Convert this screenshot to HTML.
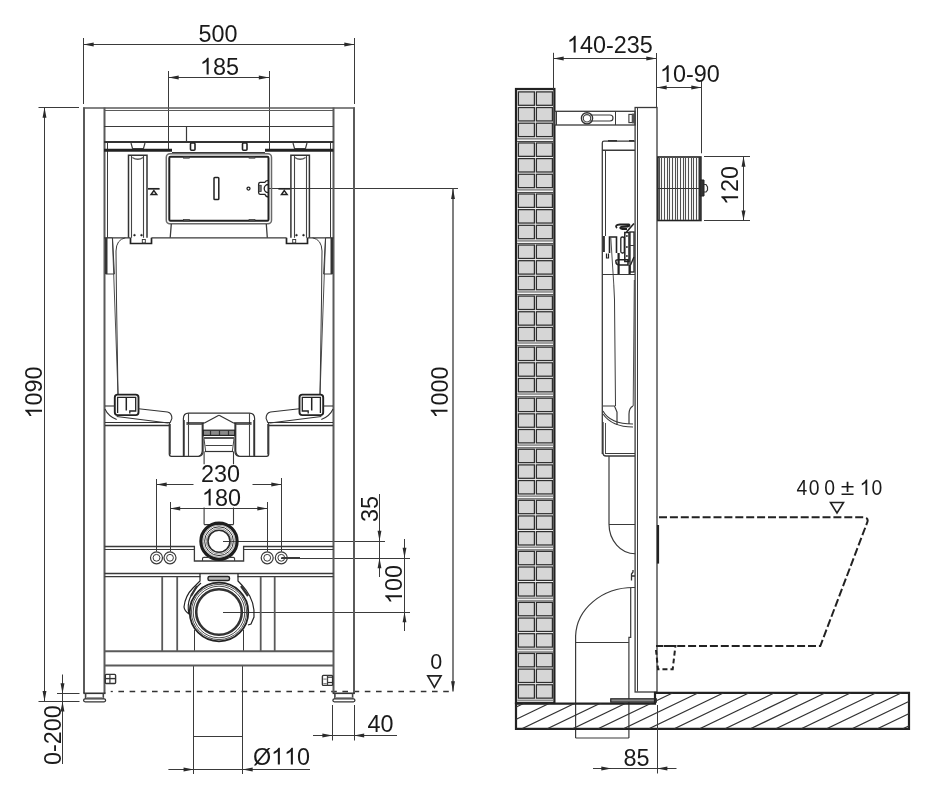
<!DOCTYPE html>
<html><head><meta charset="utf-8"><style>
html,body{margin:0;padding:0;background:#fff;}
body{width:935px;height:800px;overflow:hidden;position:relative;}
svg{position:absolute;left:0;top:0;will-change:transform;}
</style></head><body>
<svg width="935" height="800" viewBox="0 0 935 800">
<line x1="83.5" y1="38" x2="83.5" y2="104" stroke="#3a3a3a" stroke-width="1" />
<line x1="354.5" y1="38" x2="354.5" y2="104" stroke="#3a3a3a" stroke-width="1" />
<line x1="83.5" y1="44.5" x2="354.5" y2="44.5" stroke="#3a3a3a" stroke-width="1" />
<path d="M83.50,44.50 L93.70,42.55 L93.70,46.45 Z" fill="#2a2a2a"/>
<path d="M354.50,44.50 L344.30,46.45 L344.30,42.55 Z" fill="#2a2a2a"/>
<g transform="translate(198.4,41.5)"><text x="0" y="0" font-family="Liberation Sans" font-size="23.4" fill="#1a1a1a">500</text></g>
<line x1="168.5" y1="71" x2="168.5" y2="150" stroke="#3a3a3a" stroke-width="1" />
<line x1="269.5" y1="71" x2="269.5" y2="150" stroke="#3a3a3a" stroke-width="1" />
<line x1="168.5" y1="77.5" x2="269" y2="77.5" stroke="#3a3a3a" stroke-width="1" />
<path d="M168.50,77.50 L178.70,75.55 L178.70,79.45 Z" fill="#2a2a2a"/>
<path d="M269.00,77.50 L258.80,79.45 L258.80,75.55 Z" fill="#2a2a2a"/>
<g transform="translate(199.9,74.5)"><text x="0" y="0" font-family="Liberation Sans" font-size="23.4" fill="#1a1a1a"> 85</text><path d="M8.77,0.00 L6.72,0.00 L6.72,-13.10 Q4.91,-11.47 2.53,-10.41 L2.53,-12.40 Q6.08,-14.04 7.44,-16.75 L8.77,-16.75 Z" fill="#1a1a1a"/></g>
<line x1="38.5" y1="107.5" x2="79" y2="107.5" stroke="#3a3a3a" stroke-width="1" />
<line x1="38.5" y1="701.5" x2="79.5" y2="701.5" stroke="#3a3a3a" stroke-width="1.2" />
<line x1="44.5" y1="107.5" x2="44.5" y2="701.3" stroke="#3a3a3a" stroke-width="1" />
<path d="M44.50,107.50 L46.45,117.70 L42.55,117.70 Z" fill="#2a2a2a"/>
<path d="M44.50,701.30 L42.55,691.10 L46.45,691.10 Z" fill="#2a2a2a"/>
<g transform="translate(42,418.5) rotate(-90)"><text x="0" y="0" font-family="Liberation Sans" font-size="23.4" fill="#1a1a1a"> 090</text><path d="M8.77,0.00 L6.72,0.00 L6.72,-13.10 Q4.91,-11.47 2.53,-10.41 L2.53,-12.40 Q6.08,-14.04 7.44,-16.75 L8.77,-16.75 Z" fill="#1a1a1a"/></g>
<line x1="57" y1="693.5" x2="79.5" y2="693.5" stroke="#3a3a3a" stroke-width="1" />
<line x1="62.5" y1="674.5" x2="62.5" y2="764" stroke="#3a3a3a" stroke-width="1" />
<path d="M62.50,693.50 L60.55,683.30 L64.45,683.30 Z" fill="#2a2a2a"/>
<path d="M62.50,701.30 L64.45,711.50 L60.55,711.50 Z" fill="#2a2a2a"/>
<g transform="translate(61,765) rotate(-90)"><text x="0" y="0" font-family="Liberation Sans" font-size="23.4" fill="#1a1a1a">0-200</text></g>
<line x1="268.9" y1="188.5" x2="458" y2="188.5" stroke="#3a3a3a" stroke-width="1" />
<line x1="453" y1="188.7" x2="453" y2="691.5" stroke="#555" stroke-width="1.5" />
<path d="M453.00,188.70 L454.95,198.90 L451.05,198.90 Z" fill="#2a2a2a"/>
<path d="M453.00,691.50 L451.05,681.30 L454.95,681.30 Z" fill="#2a2a2a"/>
<g transform="translate(447.5,418.5) rotate(-90)"><text x="0" y="0" font-family="Liberation Sans" font-size="23.4" fill="#1a1a1a"> 000</text><path d="M8.77,0.00 L6.72,0.00 L6.72,-13.10 Q4.91,-11.47 2.53,-10.41 L2.53,-12.40 Q6.08,-14.04 7.44,-16.75 L8.77,-16.75 Z" fill="#1a1a1a"/></g>
<g transform="translate(430.2,668.6)"><text x="0" y="0" font-family="Liberation Sans" font-size="21.5" fill="#1a1a1a">0</text></g>
<path d="M427.8,675.8 L441,675.8 L434.4,687.3 Z" stroke="#222" stroke-width="1.7" fill="none" />
<line x1="118.4" y1="691.5" x2="453" y2="691.5" stroke="#333" stroke-width="1.3" stroke-dasharray="5.6 5.6"/>
<line x1="110.7" y1="691.5" x2="112.8" y2="691.5" stroke="#333" stroke-width="1.3" />
<line x1="223" y1="541.5" x2="385" y2="541.5" stroke="#3a3a3a" stroke-width="1" />
<line x1="281" y1="558.5" x2="410" y2="558.5" stroke="#3a3a3a" stroke-width="1" />
<line x1="379.5" y1="494" x2="379.5" y2="577" stroke="#3a3a3a" stroke-width="1" />
<path d="M379.50,541.00 L377.55,530.80 L381.45,530.80 Z" fill="#2a2a2a"/>
<path d="M379.50,558.00 L381.45,568.20 L377.55,568.20 Z" fill="#2a2a2a"/>
<g transform="translate(378,522) rotate(-90)"><text x="0" y="0" font-family="Liberation Sans" font-size="23.4" fill="#1a1a1a">35</text></g>
<line x1="223" y1="612.5" x2="410" y2="612.5" stroke="#3a3a3a" stroke-width="1" />
<line x1="404.5" y1="539" x2="404.5" y2="631" stroke="#3a3a3a" stroke-width="1" />
<path d="M404.50,558.00 L402.55,547.80 L406.45,547.80 Z" fill="#2a2a2a"/>
<path d="M404.50,612.00 L406.45,622.20 L402.55,622.20 Z" fill="#2a2a2a"/>
<g transform="translate(402,604) rotate(-90)"><text x="0" y="0" font-family="Liberation Sans" font-size="23.4" fill="#1a1a1a"> 00</text><path d="M8.77,0.00 L6.72,0.00 L6.72,-13.10 Q4.91,-11.47 2.53,-10.41 L2.53,-12.40 Q6.08,-14.04 7.44,-16.75 L8.77,-16.75 Z" fill="#1a1a1a"/></g>
<line x1="156.5" y1="479" x2="156.5" y2="551.5" stroke="#3a3a3a" stroke-width="1" />
<line x1="281.5" y1="478" x2="281.5" y2="551.5" stroke="#3a3a3a" stroke-width="1" />
<line x1="156.5" y1="484.5" x2="193.5" y2="484.5" stroke="#3a3a3a" stroke-width="1" />
<line x1="252.5" y1="484.5" x2="281.5" y2="484.5" stroke="#3a3a3a" stroke-width="1" />
<path d="M156.50,484.50 L166.70,482.55 L166.70,486.45 Z" fill="#2a2a2a"/>
<path d="M281.50,484.50 L271.30,486.45 L271.30,482.55 Z" fill="#2a2a2a"/>
<g transform="translate(200.9,481.5)"><text x="0" y="0" font-family="Liberation Sans" font-size="23.4" fill="#1a1a1a">230</text></g>
<line x1="170.5" y1="502" x2="170.5" y2="551.5" stroke="#3a3a3a" stroke-width="1" />
<line x1="267.5" y1="502" x2="267.5" y2="551.5" stroke="#3a3a3a" stroke-width="1" />
<line x1="170" y1="508.5" x2="267.5" y2="508.5" stroke="#3a3a3a" stroke-width="1" />
<path d="M170.00,508.50 L180.20,506.55 L180.20,510.45 Z" fill="#2a2a2a"/>
<path d="M267.50,508.50 L257.30,510.45 L257.30,506.55 Z" fill="#2a2a2a"/>
<g transform="translate(201.9,505.5)"><text x="0" y="0" font-family="Liberation Sans" font-size="23.4" fill="#1a1a1a"> 80</text><path d="M8.77,0.00 L6.72,0.00 L6.72,-13.10 Q4.91,-11.47 2.53,-10.41 L2.53,-12.40 Q6.08,-14.04 7.44,-16.75 L8.77,-16.75 Z" fill="#1a1a1a"/></g>
<line x1="332.5" y1="705" x2="332.5" y2="740.5" stroke="#3a3a3a" stroke-width="1" />
<line x1="354.5" y1="705" x2="354.5" y2="740.5" stroke="#3a3a3a" stroke-width="1" />
<line x1="313" y1="735.5" x2="397" y2="735.5" stroke="#3a3a3a" stroke-width="1" />
<path d="M332.60,735.50 L322.40,737.45 L322.40,733.55 Z" fill="#2a2a2a"/>
<path d="M354.00,735.50 L364.20,733.55 L364.20,737.45 Z" fill="#2a2a2a"/>
<g transform="translate(367.4,731.5)"><text x="0" y="0" font-family="Liberation Sans" font-size="23.4" fill="#1a1a1a">40</text></g>
<line x1="193.5" y1="666" x2="193.5" y2="774" stroke="#3a3a3a" stroke-width="1" />
<line x1="242.5" y1="666" x2="242.5" y2="774" stroke="#3a3a3a" stroke-width="1" />
<line x1="193.75" y1="736.5" x2="242.5" y2="736.5" stroke="#3a3a3a" stroke-width="1" />
<line x1="168.4" y1="769.5" x2="310" y2="769.5" stroke="#3a3a3a" stroke-width="1" />
<path d="M193.75,769.50 L183.55,771.45 L183.55,767.55 Z" fill="#2a2a2a"/>
<path d="M242.50,769.50 L252.70,767.55 L252.70,771.45 Z" fill="#2a2a2a"/>
<g transform="translate(252.9,764.5)"><text x="0" y="0" font-family="Liberation Sans" font-size="23.4" fill="#1a1a1a">Ø  0</text><path d="M26.98,0.00 L24.92,0.00 L24.92,-13.10 Q23.12,-11.47 20.73,-10.41 L20.73,-12.40 Q24.29,-14.04 25.65,-16.75 L26.98,-16.75 Z" fill="#1a1a1a"/><path d="M39.99,0.00 L37.93,0.00 L37.93,-13.10 Q36.13,-11.47 33.74,-10.41 L33.74,-12.40 Q37.30,-14.04 38.66,-16.75 L39.99,-16.75 Z" fill="#1a1a1a"/></g>
<line x1="84" y1="107.5" x2="84" y2="693" stroke="#5a5a5a" stroke-width="2" />
<line x1="104.5" y1="107.5" x2="104.5" y2="693" stroke="#5a5a5a" stroke-width="2" />
<line x1="354" y1="107.5" x2="354" y2="693" stroke="#5a5a5a" stroke-width="2" />
<line x1="333.5" y1="107.5" x2="333.5" y2="693" stroke="#5a5a5a" stroke-width="2" />
<line x1="83" y1="108" x2="355" y2="108" stroke="#5a5a5a" stroke-width="1.5" />
<line x1="104" y1="110.5" x2="333.5" y2="110.5" stroke="#5a5a5a" stroke-width="1.2" />
<line x1="104" y1="126.5" x2="333.5" y2="126.5" stroke="#3a3a3a" stroke-width="1.2" />
<line x1="186.5" y1="126.6" x2="186.5" y2="141.3" stroke="#3a3a3a" stroke-width="1.2" />
<line x1="83.3" y1="693.3" x2="105.6" y2="693.3" stroke="#333" stroke-width="1.6" />
<line x1="85.6" y1="693.3" x2="85.6" y2="699" stroke="#444" stroke-width="1.6" />
<line x1="103.3" y1="693.3" x2="103.3" y2="699" stroke="#444" stroke-width="1.6" />
<rect x="86.3" y="697" width="17" height="1.6" rx="0" stroke="none" stroke-width="0" fill="#999" />
<rect x="83.6" y="698.8" width="22" height="3" rx="1.5" stroke="#333" stroke-width="1.3" fill="#fff" />
<line x1="332.6" y1="693.3" x2="354.90000000000003" y2="693.3" stroke="#333" stroke-width="1.6" />
<line x1="334.90000000000003" y1="693.3" x2="334.90000000000003" y2="699" stroke="#444" stroke-width="1.6" />
<line x1="352.6" y1="693.3" x2="352.6" y2="699" stroke="#444" stroke-width="1.6" />
<rect x="335.6" y="697" width="17" height="1.6" rx="0" stroke="none" stroke-width="0" fill="#999" />
<rect x="332.90000000000003" y="698.8" width="22" height="3" rx="1.5" stroke="#333" stroke-width="1.3" fill="#fff" />
<line x1="107.5" y1="142" x2="107.5" y2="237.8" stroke="#3a3a3a" stroke-width="1" />
<line x1="330.5" y1="142" x2="330.5" y2="237.8" stroke="#3a3a3a" stroke-width="1" />
<line x1="104" y1="142" x2="333.5" y2="142" stroke="#333" stroke-width="1.8" />
<line x1="104" y1="150.3" x2="172" y2="150.3" stroke="#222" stroke-width="3" />
<line x1="265" y1="150.3" x2="333.5" y2="150.3" stroke="#222" stroke-width="3" />
<line x1="172" y1="152.5" x2="265" y2="152.5" stroke="#3a3a3a" stroke-width="1.2" />
<path d="M131,143 L132.5,148.5 L143.5,148.5 L145,143" stroke="#3a3a3a" stroke-width="1.2" fill="none" />
<path d="M293,143 L294.5,148.5 L305.5,148.5 L307,143" stroke="#3a3a3a" stroke-width="1.2" fill="none" />
<rect x="190.5" y="143" width="4.5" height="7.3" rx="1" stroke="#222" stroke-width="1.6" fill="none" />
<rect x="242.5" y="143" width="4.5" height="7.3" rx="1" stroke="#222" stroke-width="1.6" fill="none" />
<path d="M128.5,237.8 L128.5,155.2 L147.0,155.2 L147.0,237.8" stroke="#333" stroke-width="1.5" fill="none" />
<line x1="131.5" y1="156" x2="131.5" y2="237.8" stroke="#444" stroke-width="1.1" />
<line x1="143.5" y1="156" x2="143.5" y2="237.8" stroke="#444" stroke-width="1.1" />
<path d="M132.3,157.5 Q137.75,161 143.2,157.5" stroke="#555" stroke-width="1.3" fill="none" />
<path d="M290.9,237.8 L290.9,155.2 L309.4,155.2 L309.4,237.8" stroke="#333" stroke-width="1.5" fill="none" />
<line x1="294.5" y1="156" x2="294.5" y2="237.8" stroke="#444" stroke-width="1.1" />
<line x1="306.5" y1="156" x2="306.5" y2="237.8" stroke="#444" stroke-width="1.1" />
<path d="M294.7,157.5 Q300.15,161 305.59999999999997,157.5" stroke="#555" stroke-width="1.3" fill="none" />
<path d="M130.5,237.8 L130.5,243.5 L151.5,243.5 L151.5,237.8" stroke="#222" stroke-width="1.7" fill="none" />
<path d="M286.5,237.8 L286.5,243.5 L307.5,243.5 L307.5,237.8" stroke="#222" stroke-width="1.7" fill="none" />
<circle cx="134.5" cy="235.2" r="0.9" stroke="#222" stroke-width="0.5" fill="#222"/>
<circle cx="141.5" cy="235.2" r="0.9" stroke="#222" stroke-width="0.5" fill="#222"/>
<circle cx="296.5" cy="235.2" r="0.9" stroke="#222" stroke-width="0.5" fill="#222"/>
<circle cx="303.5" cy="235.2" r="0.9" stroke="#222" stroke-width="0.5" fill="#222"/>
<rect x="142.3" y="239.5" width="3" height="3.5" rx="0" stroke="#333" stroke-width="0.9" fill="none" />
<rect x="292.7" y="239.5" width="3" height="3.5" rx="0" stroke="#333" stroke-width="0.9" fill="none" />
<line x1="148" y1="188.8" x2="159.6" y2="188.8" stroke="#222" stroke-width="1.7" />
<path d="M153.9,190.6 L156.7,194.4 L151.1,194.4 Z" stroke="#222" stroke-width="1.5" fill="none" />
<line x1="278.4" y1="188.8" x2="290.0" y2="188.8" stroke="#222" stroke-width="1.7" />
<path d="M284.29999999999995,190.6 L287.09999999999997,194.4 L281.5,194.4 Z" stroke="#222" stroke-width="1.5" fill="none" />
<rect x="166.3" y="153.8" width="105.2" height="70" rx="3.5" stroke="#6a6a6a" stroke-width="1.5" fill="none" />
<rect x="169.3" y="156.8" width="99.2" height="64" rx="1.2" stroke="#222" stroke-width="2" fill="none" />
<rect x="214" y="177.5" width="4.8" height="22" rx="0.8" stroke="#222" stroke-width="1.5" fill="none" />
<circle cx="248.5" cy="188.6" r="1.5" stroke="#222" stroke-width="1.3" fill="#fff"/>
<path d="M268.3,180.3 Q265.5,180.5 264.8,182.4 L260,182.4 Q258.6,182.6 258.6,184.5 L258.6,192.3 Q258.6,194.3 260,194.3 L264.8,194.3 Q265.5,196.6 268.3,197" stroke="#222" stroke-width="1.3" fill="none" />
<path d="M268.3,184.5 A4.1,4.1 0 0 0 268.3,192.7" stroke="#222" stroke-width="1.3" fill="none" />
<rect x="258.8" y="185.3" width="2.4" height="6.2" rx="0" stroke="#333" stroke-width="0.8" fill="#777" />
<rect x="183.5" y="156.6" width="6" height="1.6" rx="0" stroke="#333" stroke-width="0.6" fill="#555" />
<rect x="183.5" y="219.4" width="6" height="1.6" rx="0" stroke="#333" stroke-width="0.6" fill="#555" />
<rect x="249" y="156.6" width="6" height="1.6" rx="0" stroke="#333" stroke-width="0.6" fill="#555" />
<rect x="249" y="219.4" width="6" height="1.6" rx="0" stroke="#333" stroke-width="0.6" fill="#555" />
<path d="M171.3,224 L170.2,237.8 M266.3,224 L267.3,237.8" stroke="#3a3a3a" stroke-width="1.3" fill="none" />
<path d="M104,237.8 L130.5,237.8 M151.5,237.8 L286.5,237.8 M307.5,237.8 L333.5,237.8" stroke="#3a3a3a" stroke-width="1.3" fill="none" />
<path d="M125.4,237.8 Q116.3,239.5 116,251 L116.5,300 L118,394" stroke="#3a3a3a" stroke-width="1" fill="none" />
<path d="M312.6,237.8 Q321.7,239.5 322,251 L321.5,300 L320,394.5" stroke="#3a3a3a" stroke-width="1" fill="none" />
<path d="M105.5,238 L112.5,238 L114.4,274 L105.5,274 Z" stroke="#3a3a3a" stroke-width="1" fill="#fff" />
<line x1="106.5" y1="238" x2="106.5" y2="274" stroke="#333" stroke-width="2" />
<line x1="112.4" y1="238" x2="118" y2="394" stroke="#3a3a3a" stroke-width="0.9" />
<path d="M332.5,238 L325.5,238 L323.6,274 L332.5,274 Z" stroke="#3a3a3a" stroke-width="1" fill="#fff" />
<line x1="331.5" y1="238" x2="331.5" y2="274" stroke="#333" stroke-width="2" />
<line x1="325.6" y1="238" x2="320" y2="394" stroke="#3a3a3a" stroke-width="0.9" />
<rect x="114.8" y="394.6" width="23.7" height="20.5" rx="2.8" stroke="#222" stroke-width="1.9" fill="none" />
<path d="M117.6,413 L117.6,397.3 L135.7,397.3 L135.7,411 L129.8,411 L129.8,413.5" stroke="#222" stroke-width="1.3" fill="none" />
<line x1="126.3" y1="397" x2="126.3" y2="410.5" stroke="#222" stroke-width="1.5" />
<line x1="105" y1="406" x2="114.8" y2="406" stroke="#333" stroke-width="1.1" />
<path d="M138.5,408.7 L167.5,412 Q171.9,413 171.9,418.4 L170,423" stroke="#333" stroke-width="1.1" fill="none" />
<path d="M116.7,416.5 L168,423" stroke="#333" stroke-width="1.1" fill="none" />
<path d="M105,409 Q108,416 116.7,419.6" stroke="#333" stroke-width="1.1" fill="none" />
<line x1="105" y1="422.5" x2="170" y2="422.5" stroke="#333" stroke-width="1.1" />
<line x1="105" y1="425.5" x2="169.3" y2="425.5" stroke="#333" stroke-width="1.3" />
<path d="M169.3,423 L169.3,454 Q169.3,456.3 171.5,456.3 L198.4,456.3 Q201.8,455.5 202.3,451 L202.3,423" stroke="#333" stroke-width="1.3" fill="none" />
<line x1="170.5" y1="424" x2="170.5" y2="454.5" stroke="#555" stroke-width="0.9" />
<path d="M183.4,456.3 L183.4,418.5 Q183.4,413.1 188.6,413.1 L219,413.1" stroke="#333" stroke-width="1.2" fill="none" />
<line x1="184.5" y1="420" x2="184.5" y2="456" stroke="#555" stroke-width="0.9" />
<line x1="188.5" y1="413.1" x2="188.5" y2="456.3" stroke="#444" stroke-width="1.1" />
<line x1="186.4" y1="423" x2="204.4" y2="423" stroke="#222" stroke-width="1.5" />
<line x1="186.4" y1="424.5" x2="202.3" y2="424.5" stroke="#555" stroke-width="0.9" />
<path d="M204.4,423 L218.9,415.3" stroke="#333" stroke-width="1.2" fill="none" />
<path d="M203.1,423 L203.1,451 Q203.3,455.5 199,456.3" stroke="#333" stroke-width="1.1" fill="none" />
<line x1="204" y1="437.5" x2="219" y2="437.5" stroke="#444" stroke-width="0.9" />
<line x1="204" y1="438.5" x2="219" y2="438.5" stroke="#444" stroke-width="0.9" />
<path d="M204,438.8 L205.7,451.6" stroke="#444" stroke-width="1" fill="none" />
<line x1="205.5" y1="445.5" x2="219" y2="445.5" stroke="#444" stroke-width="1" />
<line x1="204.8" y1="451.5" x2="219" y2="451.5" stroke="#333" stroke-width="1.2" />
<g transform="translate(438,0) scale(-1,1)">
<rect x="114.8" y="394.6" width="23.7" height="20.5" rx="2.8" stroke="#222" stroke-width="1.9" fill="none" />
<path d="M117.6,413 L117.6,397.3 L135.7,397.3 L135.7,411 L129.8,411 L129.8,413.5" stroke="#222" stroke-width="1.3" fill="none" />
<line x1="126.3" y1="397" x2="126.3" y2="410.5" stroke="#222" stroke-width="1.5" />
<line x1="105" y1="406" x2="114.8" y2="406" stroke="#333" stroke-width="1.1" />
<path d="M138.5,408.7 L167.5,412 Q171.9,413 171.9,418.4 L170,423" stroke="#333" stroke-width="1.1" fill="none" />
<path d="M116.7,416.5 L168,423" stroke="#333" stroke-width="1.1" fill="none" />
<path d="M105,409 Q108,416 116.7,419.6" stroke="#333" stroke-width="1.1" fill="none" />
<line x1="105" y1="422.5" x2="170" y2="422.5" stroke="#333" stroke-width="1.1" />
<line x1="105" y1="425.5" x2="169.3" y2="425.5" stroke="#333" stroke-width="1.3" />
<path d="M169.3,423 L169.3,454 Q169.3,456.3 171.5,456.3 L198.4,456.3 Q201.8,455.5 202.3,451 L202.3,423" stroke="#333" stroke-width="1.3" fill="none" />
<line x1="170.5" y1="424" x2="170.5" y2="454.5" stroke="#555" stroke-width="0.9" />
<path d="M183.4,456.3 L183.4,418.5 Q183.4,413.1 188.6,413.1 L219,413.1" stroke="#333" stroke-width="1.2" fill="none" />
<line x1="184.5" y1="420" x2="184.5" y2="456" stroke="#555" stroke-width="0.9" />
<line x1="188.5" y1="413.1" x2="188.5" y2="456.3" stroke="#444" stroke-width="1.1" />
<line x1="186.4" y1="423" x2="204.4" y2="423" stroke="#222" stroke-width="1.5" />
<line x1="186.4" y1="424.5" x2="202.3" y2="424.5" stroke="#555" stroke-width="0.9" />
<path d="M204.4,423 L218.9,415.3" stroke="#333" stroke-width="1.2" fill="none" />
<path d="M203.1,423 L203.1,451 Q203.3,455.5 199,456.3" stroke="#333" stroke-width="1.1" fill="none" />
<line x1="204" y1="437.5" x2="219" y2="437.5" stroke="#444" stroke-width="0.9" />
<line x1="204" y1="438.5" x2="219" y2="438.5" stroke="#444" stroke-width="0.9" />
<path d="M204,438.8 L205.7,451.6" stroke="#444" stroke-width="1" fill="none" />
<line x1="205.5" y1="445.5" x2="219" y2="445.5" stroke="#444" stroke-width="1" />
<line x1="204.8" y1="451.5" x2="219" y2="451.5" stroke="#333" stroke-width="1.2" />
</g>
<rect x="203.3" y="430.2" width="31.4" height="5.2" rx="0" stroke="#222" stroke-width="1.2" fill="#8a8a8a" />
<line x1="210.5" y1="430.5" x2="210.5" y2="435" stroke="#333" stroke-width="1.2" />
<line x1="219.5" y1="430.5" x2="219.5" y2="435" stroke="#333" stroke-width="1.2" />
<line x1="228.5" y1="430.5" x2="228.5" y2="435" stroke="#333" stroke-width="1.2" />
<path d="M204.1,451.6 L204.1,464.2 M233.5,451.6 L233.5,464.2 M204.1,507.5 L204.1,524.6 M233.5,507.5 L233.5,524.6 M204.1,524.6 L233.5,524.6" stroke="#3a3a3a" stroke-width="1.1" fill="none" />
<path d="M104.5,546.5 L194.4,546.5 L194.4,561 L243.6,561 L243.6,546.5 L333.5,546.5" stroke="#3a3a3a" stroke-width="1.3" fill="none" />
<line x1="104.5" y1="573.5" x2="333.5" y2="573.5" stroke="#3a3a3a" stroke-width="1.3" />
<path d="M104.5,576.7 L200.4,576.7 M237.6,576.7 L333.5,576.7" stroke="#3a3a3a" stroke-width="1.3" fill="none" />
<line x1="104.5" y1="549.5" x2="194.4" y2="549.5" stroke="#3a3a3a" stroke-width="1.1" />
<line x1="243.6" y1="549.5" x2="333.5" y2="549.5" stroke="#3a3a3a" stroke-width="1.1" />
<circle cx="156.5" cy="557.8" r="6" stroke="#3a3a3a" stroke-width="1.2" fill="none"/>
<circle cx="156.5" cy="557.8" r="3.4" stroke="#3a3a3a" stroke-width="1" fill="none"/>
<circle cx="170" cy="557.8" r="6" stroke="#3a3a3a" stroke-width="1.2" fill="none"/>
<circle cx="170" cy="557.8" r="3.4" stroke="#3a3a3a" stroke-width="1" fill="none"/>
<circle cx="267.2" cy="557.8" r="6" stroke="#3a3a3a" stroke-width="1.2" fill="none"/>
<circle cx="267.2" cy="557.8" r="3.4" stroke="#3a3a3a" stroke-width="1" fill="none"/>
<circle cx="281.3" cy="557.8" r="6" stroke="#3a3a3a" stroke-width="1.2" fill="none"/>
<circle cx="281.3" cy="557.8" r="3.4" stroke="#3a3a3a" stroke-width="1" fill="none"/>
<line x1="281.3" y1="557.5" x2="300" y2="557.5" stroke="#3a3a3a" stroke-width="1" />
<circle cx="219" cy="541.2" r="18.1" stroke="#1e1e1e" stroke-width="3.2" fill="none"/>
<circle cx="219" cy="541.2" r="15.9" stroke="#888" stroke-width="0.7" fill="none"/>
<circle cx="219" cy="541.2" r="14.4" stroke="#333" stroke-width="1" fill="none"/>
<circle cx="219" cy="541.2" r="12.8" stroke="#777" stroke-width="0.8" fill="none"/>
<circle cx="219" cy="541.2" r="11" stroke="#2a2a2a" stroke-width="1.6" fill="none"/>
<path d="M202.5,561 L202.5,558.5 Q202.5,557.4 204,557.4 L210,557.4 M228,557.4 L233.2,557.4 Q234.6,557.4 234.6,558.5 L234.6,561" stroke="#3a3a3a" stroke-width="1.1" fill="none" />
<circle cx="219" cy="612" r="29.3" stroke="#222" stroke-width="1.8" fill="none"/>
<circle cx="219" cy="612" r="27.6" stroke="#3a3a3a" stroke-width="0.9" fill="none"/>
<circle cx="219" cy="612" r="25.8" stroke="#3a3a3a" stroke-width="0.9" fill="none"/>
<circle cx="219" cy="612" r="22.8" stroke="#333" stroke-width="2.6" fill="none"/>
<path d="M200,573.5 L200,581 Q196,585 193,588 Q185,596 184,607 Q184.5,611 189,614 Q187,605 190,598 Q194,589 201,583" stroke="#222" stroke-width="1.2" fill="none" />
<path d="M238,573.5 L238,581 Q242,585 246,590 Q255,602 254,617 L251,624 L248,625" stroke="#222" stroke-width="1.2" fill="none" />
<path d="M197,586 L191,596 M241,586 L248,596" stroke="#333" stroke-width="2.2" fill="none" />
<rect x="208" y="576.5" width="21.5" height="4" rx="1.5" stroke="#222" stroke-width="1.4" fill="#bbb" />
<line x1="162.2" y1="577" x2="162.2" y2="651" stroke="#5a5a5a" stroke-width="1.8" />
<line x1="177.2" y1="577" x2="177.2" y2="651" stroke="#5a5a5a" stroke-width="1.8" />
<line x1="260.7" y1="577" x2="260.7" y2="651" stroke="#5a5a5a" stroke-width="1.8" />
<line x1="274.7" y1="577" x2="274.7" y2="651" stroke="#5a5a5a" stroke-width="1.8" />
<line x1="194.5" y1="630" x2="194.5" y2="651" stroke="#3a3a3a" stroke-width="1" />
<line x1="243.5" y1="630" x2="243.5" y2="651" stroke="#3a3a3a" stroke-width="1" />
<line x1="104.5" y1="651.3" x2="333.5" y2="651.3" stroke="#5a5a5a" stroke-width="2" />
<line x1="104.5" y1="665.5" x2="333.5" y2="665.5" stroke="#5a5a5a" stroke-width="2" />
<rect x="105.3" y="674.4" width="10.3" height="9.1" rx="1" stroke="#333" stroke-width="1.4" fill="none" />
<line x1="109.9" y1="674.4" x2="109.9" y2="683.5" stroke="#444" stroke-width="1.3" />
<line x1="105.3" y1="678.6" x2="115.6" y2="678.6" stroke="#333" stroke-width="1.4" />
<rect x="322.4" y="675.4" width="10.2" height="10" rx="1" stroke="#333" stroke-width="1.4" fill="none" />
<line x1="327.5" y1="675.4" x2="327.5" y2="685.4" stroke="#444" stroke-width="1.3" />
<line x1="327.5" y1="677.2" x2="332.6" y2="677.2" stroke="#333" stroke-width="1.2" />
<line x1="327.5" y1="682.5" x2="332.6" y2="682.5" stroke="#333" stroke-width="1.2" />
<rect x="323.3" y="678.5" width="3.5" height="1.2" rx="0" stroke="none" stroke-width="0" fill="#888" />
<rect x="323.3" y="683" width="3.5" height="1.2" rx="0" stroke="none" stroke-width="0" fill="#888" />
<rect x="516" y="89" width="38.4" height="614" rx="0" stroke="#222" stroke-width="2.2" fill="#f2f2f2" />
<rect x="518.4" y="91.9" width="16" height="13.4" rx="0" stroke="#2e2e2e" stroke-width="1.25" fill="#d6d6d6" />
<rect x="536.4" y="91.9" width="16" height="13.4" rx="0" stroke="#2e2e2e" stroke-width="1.25" fill="#d6d6d6" />
<rect x="518.4" y="107.55000000000001" width="16" height="13.4" rx="0" stroke="#2e2e2e" stroke-width="1.25" fill="#d6d6d6" />
<rect x="536.4" y="107.55000000000001" width="16" height="13.4" rx="0" stroke="#2e2e2e" stroke-width="1.25" fill="#d6d6d6" />
<rect x="518.4" y="123.2" width="16" height="13.4" rx="0" stroke="#2e2e2e" stroke-width="1.25" fill="#d6d6d6" />
<rect x="536.4" y="123.2" width="16" height="13.4" rx="0" stroke="#2e2e2e" stroke-width="1.25" fill="#d6d6d6" />
<rect x="517.2" y="138.0" width="36" height="1.6" rx="0" stroke="none" stroke-width="0" fill="#8c8c8c" />
<line x1="517.2" y1="141.5" x2="553.3" y2="141.5" stroke="#444" stroke-width="1" />
<rect x="518.4" y="142.95" width="16" height="13.4" rx="0" stroke="#2e2e2e" stroke-width="1.25" fill="#d6d6d6" />
<rect x="536.4" y="142.95" width="16" height="13.4" rx="0" stroke="#2e2e2e" stroke-width="1.25" fill="#d6d6d6" />
<rect x="518.4" y="158.6" width="16" height="13.4" rx="0" stroke="#2e2e2e" stroke-width="1.25" fill="#d6d6d6" />
<rect x="536.4" y="158.6" width="16" height="13.4" rx="0" stroke="#2e2e2e" stroke-width="1.25" fill="#d6d6d6" />
<rect x="518.4" y="174.25" width="16" height="13.4" rx="0" stroke="#2e2e2e" stroke-width="1.25" fill="#d6d6d6" />
<rect x="536.4" y="174.25" width="16" height="13.4" rx="0" stroke="#2e2e2e" stroke-width="1.25" fill="#d6d6d6" />
<rect x="517.2" y="189.04999999999998" width="36" height="1.6" rx="0" stroke="none" stroke-width="0" fill="#8c8c8c" />
<line x1="517.2" y1="192.54999999999998" x2="553.3" y2="192.54999999999998" stroke="#444" stroke-width="1" />
<rect x="518.4" y="194.0" width="16" height="13.4" rx="0" stroke="#2e2e2e" stroke-width="1.25" fill="#d6d6d6" />
<rect x="536.4" y="194.0" width="16" height="13.4" rx="0" stroke="#2e2e2e" stroke-width="1.25" fill="#d6d6d6" />
<rect x="518.4" y="209.65" width="16" height="13.4" rx="0" stroke="#2e2e2e" stroke-width="1.25" fill="#d6d6d6" />
<rect x="536.4" y="209.65" width="16" height="13.4" rx="0" stroke="#2e2e2e" stroke-width="1.25" fill="#d6d6d6" />
<rect x="518.4" y="225.3" width="16" height="13.4" rx="0" stroke="#2e2e2e" stroke-width="1.25" fill="#d6d6d6" />
<rect x="536.4" y="225.3" width="16" height="13.4" rx="0" stroke="#2e2e2e" stroke-width="1.25" fill="#d6d6d6" />
<rect x="517.2" y="240.1" width="36" height="1.6" rx="0" stroke="none" stroke-width="0" fill="#8c8c8c" />
<line x1="517.2" y1="243.6" x2="553.3" y2="243.6" stroke="#444" stroke-width="1" />
<rect x="518.4" y="245.04999999999998" width="16" height="13.4" rx="0" stroke="#2e2e2e" stroke-width="1.25" fill="#d6d6d6" />
<rect x="536.4" y="245.04999999999998" width="16" height="13.4" rx="0" stroke="#2e2e2e" stroke-width="1.25" fill="#d6d6d6" />
<rect x="518.4" y="260.7" width="16" height="13.4" rx="0" stroke="#2e2e2e" stroke-width="1.25" fill="#d6d6d6" />
<rect x="536.4" y="260.7" width="16" height="13.4" rx="0" stroke="#2e2e2e" stroke-width="1.25" fill="#d6d6d6" />
<rect x="518.4" y="276.34999999999997" width="16" height="13.4" rx="0" stroke="#2e2e2e" stroke-width="1.25" fill="#d6d6d6" />
<rect x="536.4" y="276.34999999999997" width="16" height="13.4" rx="0" stroke="#2e2e2e" stroke-width="1.25" fill="#d6d6d6" />
<rect x="517.2" y="291.15" width="36" height="1.6" rx="0" stroke="none" stroke-width="0" fill="#8c8c8c" />
<line x1="517.2" y1="294.65" x2="553.3" y2="294.65" stroke="#444" stroke-width="1" />
<rect x="518.4" y="296.1" width="16" height="13.4" rx="0" stroke="#2e2e2e" stroke-width="1.25" fill="#d6d6d6" />
<rect x="536.4" y="296.1" width="16" height="13.4" rx="0" stroke="#2e2e2e" stroke-width="1.25" fill="#d6d6d6" />
<rect x="518.4" y="311.75" width="16" height="13.4" rx="0" stroke="#2e2e2e" stroke-width="1.25" fill="#d6d6d6" />
<rect x="536.4" y="311.75" width="16" height="13.4" rx="0" stroke="#2e2e2e" stroke-width="1.25" fill="#d6d6d6" />
<rect x="518.4" y="327.40000000000003" width="16" height="13.4" rx="0" stroke="#2e2e2e" stroke-width="1.25" fill="#d6d6d6" />
<rect x="536.4" y="327.40000000000003" width="16" height="13.4" rx="0" stroke="#2e2e2e" stroke-width="1.25" fill="#d6d6d6" />
<rect x="517.2" y="342.20000000000005" width="36" height="1.6" rx="0" stroke="none" stroke-width="0" fill="#8c8c8c" />
<line x1="517.2" y1="345.70000000000005" x2="553.3" y2="345.70000000000005" stroke="#444" stroke-width="1" />
<rect x="518.4" y="347.15" width="16" height="13.4" rx="0" stroke="#2e2e2e" stroke-width="1.25" fill="#d6d6d6" />
<rect x="536.4" y="347.15" width="16" height="13.4" rx="0" stroke="#2e2e2e" stroke-width="1.25" fill="#d6d6d6" />
<rect x="518.4" y="362.79999999999995" width="16" height="13.4" rx="0" stroke="#2e2e2e" stroke-width="1.25" fill="#d6d6d6" />
<rect x="536.4" y="362.79999999999995" width="16" height="13.4" rx="0" stroke="#2e2e2e" stroke-width="1.25" fill="#d6d6d6" />
<rect x="518.4" y="378.45" width="16" height="13.4" rx="0" stroke="#2e2e2e" stroke-width="1.25" fill="#d6d6d6" />
<rect x="536.4" y="378.45" width="16" height="13.4" rx="0" stroke="#2e2e2e" stroke-width="1.25" fill="#d6d6d6" />
<rect x="517.2" y="393.25" width="36" height="1.6" rx="0" stroke="none" stroke-width="0" fill="#8c8c8c" />
<line x1="517.2" y1="396.75" x2="553.3" y2="396.75" stroke="#444" stroke-width="1" />
<rect x="518.4" y="398.19999999999993" width="16" height="13.4" rx="0" stroke="#2e2e2e" stroke-width="1.25" fill="#d6d6d6" />
<rect x="536.4" y="398.19999999999993" width="16" height="13.4" rx="0" stroke="#2e2e2e" stroke-width="1.25" fill="#d6d6d6" />
<rect x="518.4" y="413.8499999999999" width="16" height="13.4" rx="0" stroke="#2e2e2e" stroke-width="1.25" fill="#d6d6d6" />
<rect x="536.4" y="413.8499999999999" width="16" height="13.4" rx="0" stroke="#2e2e2e" stroke-width="1.25" fill="#d6d6d6" />
<rect x="518.4" y="429.49999999999994" width="16" height="13.4" rx="0" stroke="#2e2e2e" stroke-width="1.25" fill="#d6d6d6" />
<rect x="536.4" y="429.49999999999994" width="16" height="13.4" rx="0" stroke="#2e2e2e" stroke-width="1.25" fill="#d6d6d6" />
<rect x="517.2" y="444.29999999999995" width="36" height="1.6" rx="0" stroke="none" stroke-width="0" fill="#8c8c8c" />
<line x1="517.2" y1="447.79999999999995" x2="553.3" y2="447.79999999999995" stroke="#444" stroke-width="1" />
<rect x="518.4" y="449.25" width="16" height="13.4" rx="0" stroke="#2e2e2e" stroke-width="1.25" fill="#d6d6d6" />
<rect x="536.4" y="449.25" width="16" height="13.4" rx="0" stroke="#2e2e2e" stroke-width="1.25" fill="#d6d6d6" />
<rect x="518.4" y="464.9" width="16" height="13.4" rx="0" stroke="#2e2e2e" stroke-width="1.25" fill="#d6d6d6" />
<rect x="536.4" y="464.9" width="16" height="13.4" rx="0" stroke="#2e2e2e" stroke-width="1.25" fill="#d6d6d6" />
<rect x="518.4" y="480.55" width="16" height="13.4" rx="0" stroke="#2e2e2e" stroke-width="1.25" fill="#d6d6d6" />
<rect x="536.4" y="480.55" width="16" height="13.4" rx="0" stroke="#2e2e2e" stroke-width="1.25" fill="#d6d6d6" />
<rect x="517.2" y="495.35" width="36" height="1.6" rx="0" stroke="none" stroke-width="0" fill="#8c8c8c" />
<line x1="517.2" y1="498.85" x2="553.3" y2="498.85" stroke="#444" stroke-width="1" />
<rect x="518.4" y="500.29999999999995" width="16" height="13.4" rx="0" stroke="#2e2e2e" stroke-width="1.25" fill="#d6d6d6" />
<rect x="536.4" y="500.29999999999995" width="16" height="13.4" rx="0" stroke="#2e2e2e" stroke-width="1.25" fill="#d6d6d6" />
<rect x="518.4" y="515.9499999999999" width="16" height="13.4" rx="0" stroke="#2e2e2e" stroke-width="1.25" fill="#d6d6d6" />
<rect x="536.4" y="515.9499999999999" width="16" height="13.4" rx="0" stroke="#2e2e2e" stroke-width="1.25" fill="#d6d6d6" />
<rect x="518.4" y="531.5999999999999" width="16" height="13.4" rx="0" stroke="#2e2e2e" stroke-width="1.25" fill="#d6d6d6" />
<rect x="536.4" y="531.5999999999999" width="16" height="13.4" rx="0" stroke="#2e2e2e" stroke-width="1.25" fill="#d6d6d6" />
<rect x="517.2" y="546.4" width="36" height="1.6" rx="0" stroke="none" stroke-width="0" fill="#8c8c8c" />
<line x1="517.2" y1="549.9" x2="553.3" y2="549.9" stroke="#444" stroke-width="1" />
<rect x="518.4" y="551.35" width="16" height="13.4" rx="0" stroke="#2e2e2e" stroke-width="1.25" fill="#d6d6d6" />
<rect x="536.4" y="551.35" width="16" height="13.4" rx="0" stroke="#2e2e2e" stroke-width="1.25" fill="#d6d6d6" />
<rect x="518.4" y="567.0" width="16" height="13.4" rx="0" stroke="#2e2e2e" stroke-width="1.25" fill="#d6d6d6" />
<rect x="536.4" y="567.0" width="16" height="13.4" rx="0" stroke="#2e2e2e" stroke-width="1.25" fill="#d6d6d6" />
<rect x="518.4" y="582.65" width="16" height="13.4" rx="0" stroke="#2e2e2e" stroke-width="1.25" fill="#d6d6d6" />
<rect x="536.4" y="582.65" width="16" height="13.4" rx="0" stroke="#2e2e2e" stroke-width="1.25" fill="#d6d6d6" />
<rect x="517.2" y="597.45" width="36" height="1.6" rx="0" stroke="none" stroke-width="0" fill="#8c8c8c" />
<line x1="517.2" y1="600.95" x2="553.3" y2="600.95" stroke="#444" stroke-width="1" />
<rect x="518.4" y="602.4" width="16" height="13.4" rx="0" stroke="#2e2e2e" stroke-width="1.25" fill="#d6d6d6" />
<rect x="536.4" y="602.4" width="16" height="13.4" rx="0" stroke="#2e2e2e" stroke-width="1.25" fill="#d6d6d6" />
<rect x="518.4" y="618.05" width="16" height="13.4" rx="0" stroke="#2e2e2e" stroke-width="1.25" fill="#d6d6d6" />
<rect x="536.4" y="618.05" width="16" height="13.4" rx="0" stroke="#2e2e2e" stroke-width="1.25" fill="#d6d6d6" />
<rect x="518.4" y="633.6999999999999" width="16" height="13.4" rx="0" stroke="#2e2e2e" stroke-width="1.25" fill="#d6d6d6" />
<rect x="536.4" y="633.6999999999999" width="16" height="13.4" rx="0" stroke="#2e2e2e" stroke-width="1.25" fill="#d6d6d6" />
<rect x="517.2" y="648.5" width="36" height="1.6" rx="0" stroke="none" stroke-width="0" fill="#8c8c8c" />
<line x1="517.2" y1="652.0" x2="553.3" y2="652.0" stroke="#444" stroke-width="1" />
<rect x="518.4" y="653.4499999999999" width="16" height="13.4" rx="0" stroke="#2e2e2e" stroke-width="1.25" fill="#d6d6d6" />
<rect x="536.4" y="653.4499999999999" width="16" height="13.4" rx="0" stroke="#2e2e2e" stroke-width="1.25" fill="#d6d6d6" />
<rect x="518.4" y="669.0999999999999" width="16" height="13.4" rx="0" stroke="#2e2e2e" stroke-width="1.25" fill="#d6d6d6" />
<rect x="536.4" y="669.0999999999999" width="16" height="13.4" rx="0" stroke="#2e2e2e" stroke-width="1.25" fill="#d6d6d6" />
<rect x="518.4" y="684.7499999999999" width="16" height="13.4" rx="0" stroke="#2e2e2e" stroke-width="1.25" fill="#d6d6d6" />
<rect x="536.4" y="684.7499999999999" width="16" height="13.4" rx="0" stroke="#2e2e2e" stroke-width="1.25" fill="#d6d6d6" />
<rect x="517.2" y="699.55" width="36" height="1.6" rx="0" stroke="none" stroke-width="0" fill="#8c8c8c" />
<line x1="517.2" y1="703.05" x2="553.3" y2="703.05" stroke="#444" stroke-width="1" />
<line x1="553.5" y1="52.8" x2="553.5" y2="89" stroke="#3a3a3a" stroke-width="1" />
<line x1="553" y1="58.5" x2="656.6" y2="58.5" stroke="#3a3a3a" stroke-width="1" />
<path d="M553.50,58.50 L563.70,56.55 L563.70,60.45 Z" fill="#2a2a2a"/>
<path d="M656.50,58.50 L646.30,60.45 L646.30,56.55 Z" fill="#2a2a2a"/>
<g transform="translate(566.9,52.5)"><text x="0" y="0" font-family="Liberation Sans" font-size="23.4" fill="#1a1a1a"> 40-235</text><path d="M8.77,0.00 L6.72,0.00 L6.72,-13.10 Q4.91,-11.47 2.53,-10.41 L2.53,-12.40 Q6.08,-14.04 7.44,-16.75 L8.77,-16.75 Z" fill="#1a1a1a"/></g>
<line x1="656.5" y1="53" x2="656.5" y2="107.5" stroke="#3a3a3a" stroke-width="1" />
<line x1="701.5" y1="81" x2="701.5" y2="153.3" stroke="#3a3a3a" stroke-width="1" />
<line x1="656.6" y1="87.5" x2="701.3" y2="87.5" stroke="#3a3a3a" stroke-width="1" />
<path d="M656.50,87.50 L666.70,85.55 L666.70,89.45 Z" fill="#2a2a2a"/>
<path d="M701.50,87.50 L691.30,89.45 L691.30,85.55 Z" fill="#2a2a2a"/>
<g transform="translate(659.9,82)"><text x="0" y="0" font-family="Liberation Sans" font-size="23.4" fill="#1a1a1a"> 0-90</text><path d="M8.77,0.00 L6.72,0.00 L6.72,-13.10 Q4.91,-11.47 2.53,-10.41 L2.53,-12.40 Q6.08,-14.04 7.44,-16.75 L8.77,-16.75 Z" fill="#1a1a1a"/></g>
<line x1="704" y1="156.5" x2="750" y2="156.5" stroke="#3a3a3a" stroke-width="1" />
<line x1="704" y1="220.5" x2="750" y2="220.5" stroke="#3a3a3a" stroke-width="1" />
<line x1="743.5" y1="156.5" x2="743.5" y2="220.8" stroke="#3a3a3a" stroke-width="1" />
<path d="M743.50,156.50 L745.45,166.70 L741.55,166.70 Z" fill="#2a2a2a"/>
<path d="M743.50,220.80 L741.55,210.60 L745.45,210.60 Z" fill="#2a2a2a"/>
<g transform="translate(738.1,205) rotate(-90)"><text x="0" y="0" font-family="Liberation Sans" font-size="23.4" fill="#1a1a1a"> 20</text><path d="M8.77,0.00 L6.72,0.00 L6.72,-13.10 Q4.91,-11.47 2.53,-10.41 L2.53,-12.40 Q6.08,-14.04 7.44,-16.75 L8.77,-16.75 Z" fill="#1a1a1a"/></g>
<rect x="554.4" y="111.3" width="80.6" height="13.7" rx="0" stroke="#3a3a3a" stroke-width="1.3" fill="none" />
<line x1="556.5" y1="111.3" x2="556.5" y2="125" stroke="#3a3a3a" stroke-width="1" />
<line x1="615.5" y1="111.3" x2="615.5" y2="125" stroke="#3a3a3a" stroke-width="1" />
<circle cx="587" cy="118.3" r="5.6" stroke="#333" stroke-width="1.4" fill="none"/>
<circle cx="587" cy="118.3" r="3.7" stroke="#444" stroke-width="1.1" fill="none"/>
<path d="M590,115 L610,115 Q613,115 613,118 Q613,121 610,121 L590,121" stroke="#3a3a3a" stroke-width="1.2" fill="none" />
<rect x="628.9" y="114.4" width="3.4" height="8.2" rx="0" stroke="#3a3a3a" stroke-width="1.1" fill="none" />
<rect x="632.3" y="113.5" width="2.4" height="10" rx="0" stroke="none" stroke-width="0" fill="#555" />
<rect x="635.1" y="107.5" width="21.9" height="584.5" rx="0" stroke="#3a3a3a" stroke-width="1.3" fill="none" />
<line x1="637.5" y1="108" x2="637.5" y2="691.5" stroke="#3a3a3a" stroke-width="1" />
<rect x="657.9" y="157" width="43" height="63.5" rx="0" stroke="#222" stroke-width="1.6" fill="#fff" />
<line x1="659.5" y1="157.5" x2="659.5" y2="220" stroke="#505050" stroke-width="1.1" />
<line x1="661.5" y1="157.5" x2="661.5" y2="220" stroke="#505050" stroke-width="1.1" />
<line x1="664.5" y1="157.5" x2="664.5" y2="220" stroke="#505050" stroke-width="1.1" />
<line x1="667.5" y1="157.5" x2="667.5" y2="220" stroke="#505050" stroke-width="1.1" />
<line x1="669.5" y1="157.5" x2="669.5" y2="220" stroke="#505050" stroke-width="1.1" />
<line x1="672.5" y1="157.5" x2="672.5" y2="220" stroke="#505050" stroke-width="1.1" />
<line x1="675.5" y1="157.5" x2="675.5" y2="220" stroke="#505050" stroke-width="1.1" />
<line x1="677.5" y1="157.5" x2="677.5" y2="220" stroke="#505050" stroke-width="1.1" />
<line x1="680.5" y1="157.5" x2="680.5" y2="220" stroke="#505050" stroke-width="1.1" />
<line x1="683.5" y1="157.5" x2="683.5" y2="220" stroke="#505050" stroke-width="1.1" />
<line x1="685.5" y1="157.5" x2="685.5" y2="220" stroke="#505050" stroke-width="1.1" />
<line x1="688.5" y1="157.5" x2="688.5" y2="220" stroke="#505050" stroke-width="1.1" />
<line x1="691.5" y1="157.5" x2="691.5" y2="220" stroke="#505050" stroke-width="1.1" />
<line x1="693.5" y1="157.5" x2="693.5" y2="220" stroke="#505050" stroke-width="1.1" />
<line x1="696.5" y1="157.5" x2="696.5" y2="220" stroke="#505050" stroke-width="1.1" />
<line x1="699.5" y1="157.5" x2="699.5" y2="220" stroke="#505050" stroke-width="1.1" />
<line x1="699.6" y1="157" x2="699.6" y2="220.5" stroke="#333" stroke-width="2.2" />
<line x1="658" y1="188.5" x2="700.7" y2="188.5" stroke="#333" stroke-width="1" />
<path d="M700,180 L704,180 L704,196 L700,196 Z" stroke="#222" stroke-width="1" fill="#333" />
<path d="M704,184.5 L706,184.5 L707.5,187 L707.5,190 L706,192 L704,192" stroke="#333" stroke-width="1.2" fill="none" />
<path d="M602.3,454 L602.3,143 Q602.3,141.2 604,141.2 L635,141.2" stroke="#3a3a3a" stroke-width="1.3" fill="none" />
<rect x="608" y="140" width="9" height="1.6" rx="0" stroke="none" stroke-width="0" fill="#333" />
<rect x="629" y="140" width="5" height="1.6" rx="0" stroke="none" stroke-width="0" fill="#333" />
<line x1="605.5" y1="150.2" x2="605.5" y2="236" stroke="#3a3a3a" stroke-width="1" />
<line x1="634.3" y1="280" x2="633.2" y2="406" stroke="#3a3a3a" stroke-width="0.9" />
<line x1="602.3" y1="150.2" x2="635" y2="150.2" stroke="#3a3a3a" stroke-width="1.5" />
<line x1="602.3" y1="274.5" x2="635" y2="274.5" stroke="#3a3a3a" stroke-width="1" />
<path d="M613.8,285 L614.5,300 L615.5,406" stroke="#3a3a3a" stroke-width="1" fill="none" />
<path d="M603,406 L614.5,406 L617,412 L617,425 M633,406 Q629,408 629,414 L629,424" stroke="#3a3a3a" stroke-width="1.2" fill="none" />
<path d="M603,411 Q610,424 633,424 M603,414 Q612,427 633,427" stroke="#3a3a3a" stroke-width="1.1" fill="none" />
<path d="M603,422 L603,453 Q603,456 606,456 L635,456" stroke="#3a3a3a" stroke-width="1.3" fill="none" />
<line x1="605.5" y1="423" x2="605.5" y2="454" stroke="#3a3a3a" stroke-width="0.9" />
<line x1="605" y1="453.5" x2="635" y2="453.5" stroke="#3a3a3a" stroke-width="1" />
<line x1="603.9" y1="236" x2="603.9" y2="252" stroke="#333" stroke-width="2" />
<path d="M617,228 Q614,225 620,224.5 L629,224.5 Q630.5,225.5 628,226.5 L621,227 Q619,228 622,229 L627,229" stroke="#222" stroke-width="1.8" fill="none" />
<path d="M634,223.5 L626.5,232" stroke="#222" stroke-width="1.6" fill="none" />
<rect x="624.8" y="232.5" width="4.2" height="29" rx="0" stroke="#222" stroke-width="1.5" fill="none" />
<circle cx="626.9" cy="236" r="0.9" stroke="none" stroke-width="0" fill="#222"/>
<circle cx="626.9" cy="247" r="0.9" stroke="none" stroke-width="0" fill="#222"/>
<circle cx="626.9" cy="256" r="0.9" stroke="none" stroke-width="0" fill="#222"/>
<path d="M634,257 L630.5,265" stroke="#222" stroke-width="1.4" fill="none" />
<rect x="630" y="232" width="4" height="40" rx="0" stroke="#222" stroke-width="1.3" fill="none" />
<line x1="630" y1="245.5" x2="634" y2="245.5" stroke="#3a3a3a" stroke-width="1" />
<path d="M609.5,253 L609.5,237 L616.5,237 L616.5,253" stroke="#222" stroke-width="1.6" fill="none" />
<rect x="620.8" y="237" width="3.5" height="16" rx="1.5" stroke="#222" stroke-width="1.3" fill="none" />
<path d="M606.5,253.5 L606.5,258 L608.5,258 L608.5,253.5" stroke="#222" stroke-width="1.2" fill="none" />
<path d="M616,262 Q615,259.5 619,259.7 L628,259.7 L628,265 L620,265 Q616,265 616,262" stroke="#222" stroke-width="1.6" fill="none" />
<line x1="618.6" y1="253" x2="618.6" y2="274" stroke="#222" stroke-width="2.2" />
<line x1="629.6" y1="265" x2="629.6" y2="274" stroke="#222" stroke-width="2.2" />
<line x1="610.8" y1="237.8" x2="613.8" y2="285" stroke="#3a3a3a" stroke-width="0.9" />
<path d="M609,456 L609,524 A26.25,29.75 0 0 0 635.25,553.75" stroke="#3a3a3a" stroke-width="1.2" fill="none" />
<line x1="609" y1="524.5" x2="635" y2="524.5" stroke="#3a3a3a" stroke-width="1" />
<path d="M575.6,738 L575.6,636 A57.7,50 0 0 1 633.3,587.5 L635,587.5" stroke="#3a3a3a" stroke-width="1.2" fill="none" />
<path d="M630.7,587.5 L630.7,637.4 L628.9,637.4 L628.9,738 M575.6,738 L628.9,738" stroke="#3a3a3a" stroke-width="1.2" fill="none" />
<line x1="575.6" y1="642.5" x2="628.9" y2="642.5" stroke="#3a3a3a" stroke-width="1.1" />
<path d="M631.5,580.5 L631.5,574 L633,572 L633,570 M631.5,576 L635,576" stroke="#333" stroke-width="1.3" fill="none" />
<rect x="610.75" y="698.8" width="45.5" height="3.3" rx="0" stroke="#222" stroke-width="1.2" fill="#8a8a8a" />
<path d="M656,517.3 L865,517.3 Q869,518.5 867,523 L820.3,646 L656,646" stroke="#222" stroke-width="2" fill="none" stroke-dasharray="8 2.9" stroke-dashoffset="7.9"/>
<path d="M656,646 L675.4,646 L672.7,669.2 L658,669.2 L656,650" stroke="#222" stroke-width="2" fill="none" stroke-dasharray="5 3"/>
<line x1="658" y1="525" x2="658" y2="563.6" stroke="#222" stroke-width="2.2" />
<text transform="translate(796.6,495.0) scale(0.9,1)" font-family="Liberation Sans" font-size="21.5" fill="#1a1a1a">4</text>
<text transform="translate(808.8,495.0) scale(0.9,1)" font-family="Liberation Sans" font-size="21.5" fill="#1a1a1a">0</text>
<text transform="translate(824.2,495.0) scale(0.9,1)" font-family="Liberation Sans" font-size="21.5" fill="#1a1a1a">0</text>
<text transform="translate(840.8,495.0) scale(1.15,1)" font-family="Liberation Sans" font-size="21.5" fill="#1a1a1a">±</text>
<text transform="translate(871.5,495.0) scale(0.9,1)" font-family="Liberation Sans" font-size="21.5" fill="#1a1a1a">0</text>
<g transform="translate(859.6,495.0) scale(0.95,1)"><path d="M8.06,0.00 L6.17,0.00 L6.17,-12.04 Q4.51,-10.54 2.32,-9.57 L2.32,-11.40 Q5.59,-12.90 6.84,-15.39 L8.06,-15.39 Z" fill="#1a1a1a"/></g>
<path d="M830.5,502.5 L843.5,502.5 L837,513 Z" stroke="#222" stroke-width="1.6" fill="none" />
<path d="M516,703.6 L655,703.6 L655,692.8 L909,692.8 L909,728.8 L516,728.8 Z" stroke="#222" stroke-width="2.2" fill="none" />
<clipPath id="fl"><path d="M516,703.6 L655,703.6 L655,692.8 L909,692.8 L909,728.8 L516,728.8 Z"/></clipPath>
<path d="M902.8,728.8 L977.8,692.8 M877.4,728.8 L952.4,692.8 M852.0,728.8 L927.0,692.8 M826.6,728.8 L901.6,692.8 M801.2,728.8 L876.2,692.8 M775.8,728.8 L850.8,692.8 M750.4,728.8 L825.4,692.8 M725.0,728.8 L800.0,692.8 M699.6,728.8 L774.6,692.8 M674.2,728.8 L749.2,692.8 M648.8,728.8 L723.8,692.8 M623.4,728.8 L698.4,692.8 M598.0,728.8 L673.0,692.8 M572.6,728.8 L647.6,692.8 M547.2,728.8 L622.2,692.8 M521.8,728.8 L596.8,692.8 M496.4,728.8 L571.4,692.8 M471.0,728.8 L546.0,692.8 M445.6,728.8 L520.6,692.8 M420.2,728.8 L495.2,692.8 M394.8,728.8 L469.8,692.8 M369.4,728.8 L444.4,692.8" stroke="#333" stroke-width="1.2" clip-path="url(#fl)"/>
<line x1="593" y1="768.5" x2="676.5" y2="768.5" stroke="#3a3a3a" stroke-width="1" />
<path d="M611.50,768.50 L601.30,770.45 L601.30,766.55 Z" fill="#2a2a2a"/>
<path d="M657.20,768.50 L667.40,766.55 L667.40,770.45 Z" fill="#2a2a2a"/>
<line x1="657.5" y1="705" x2="657.5" y2="773.5" stroke="#3a3a3a" stroke-width="1" />
<g transform="translate(623.4,766.4)"><text x="0" y="0" font-family="Liberation Sans" font-size="23.4" fill="#1a1a1a">85</text></g>
</svg>
</body></html>
